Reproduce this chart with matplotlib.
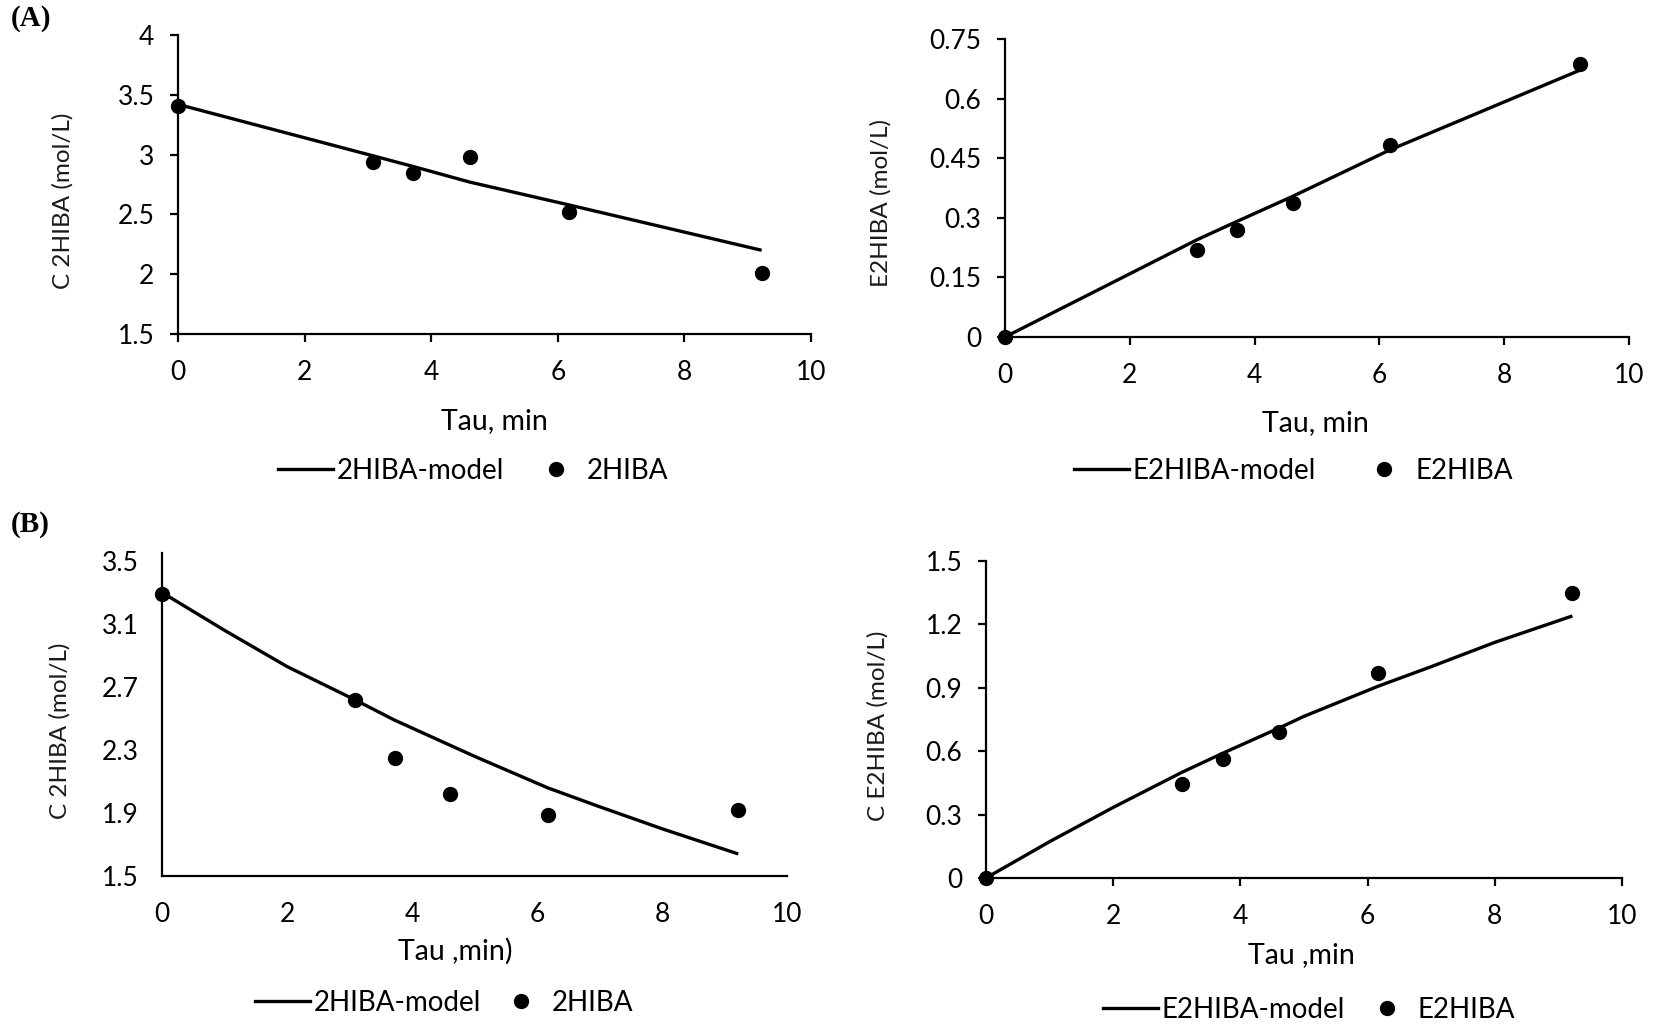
import matplotlib
matplotlib.use("Agg")
import matplotlib.pyplot as plt
from matplotlib.lines import Line2D

# Residence time (min) of the experimental runs
tau = [0, 3.08, 3.72, 4.61, 6.17, 9.22]

# (A) measured and model concentrations
c2hiba_a_exp = [3.41, 2.94, 2.85, 2.98, 2.52, 2.01]
c2hiba_a_model = [3.42, 2.99, 2.90, 2.77, 2.58, 2.20]
e2hiba_a_exp = [0.0, 0.218, 0.270, 0.337, 0.484, 0.687]
e2hiba_a_model = [0.0, 0.245, 0.291, 0.354, 0.471, 0.672]

# (B) measured concentrations and model curves
tau_model_b = [0, 1, 2, 3.08, 3.72, 4.61, 5, 6.17, 7, 8, 9.22]
c2hiba_b_exp = [3.29, 2.62, 2.25, 2.02, 1.89, 1.92]
c2hiba_b_model = [3.30, 3.06, 2.83, 2.62, 2.49, 2.33, 2.26, 2.06, 1.94, 1.80, 1.64]
e2hiba_b_exp = [0.0, 0.444, 0.561, 0.691, 0.97, 1.347]
e2hiba_b_model = [0.0, 0.172, 0.334, 0.50, 0.59, 0.71, 0.765, 0.908, 1.00, 1.115, 1.24]

x_ticks = [0, 2, 4, 6, 8, 10]
y_ticks_a1 = [1.5, 2, 2.5, 3, 3.5, 4]
y_ticks_a2 = [0, 0.15, 0.3, 0.45, 0.6, 0.75]
y_ticks_b1 = [1.5, 1.9, 2.3, 2.7, 3.1, 3.5]
y_ticks_b2 = [0, 0.3, 0.6, 0.9, 1.2, 1.5]

W, H = 1659, 1029
SANS = ["Lato", "DejaVu Sans"]

fig = plt.figure(figsize=(W / 100, H / 100), dpi=100)
fig.patch.set_facecolor("white")


def px_axes(x0, x1, ytop, ybot):
    return fig.add_axes([x0 / W, 1 - ybot / H, (x1 - x0) / W, (ybot - ytop) / H])


def style(ax, ylim, yticks, ylabels, ticks=True, xpad=13, ypad=11):
    ax.set_xlim(0, 10)
    ax.set_ylim(*ylim)
    ax.set_xticks(x_ticks)
    ax.set_yticks(yticks)
    ax.set_yticklabels(ylabels)
    for s in ("top", "right"):
        ax.spines[s].set_visible(False)
    for s in ("left", "bottom"):
        ax.spines[s].set_linewidth(1.6)
        ax.spines[s].set_color("black")
    tl = 6 if ticks else 0
    ax.tick_params(axis="x", direction="out", length=tl, width=1.6, pad=xpad)
    ax.tick_params(axis="y", direction="out", length=tl, width=1.6, pad=ypad)
    for lab in ax.get_xticklabels() + ax.get_yticklabels():
        lab.set_family(SANS)
        lab.set_fontsize(19)
    ax.patch.set_alpha(0)


def legend(name, x, y, colspace):
    handles = [
        Line2D([], [], color="black", lw=2.4),
        Line2D([], [], color="black", lw=0, marker="o", markersize=10),
    ]
    fig.legend(handles, [name + "-model", name], loc="center left",
               bbox_to_anchor=(x / W, 1 - y / H), ncol=2, frameon=False,
               borderpad=0, borderaxespad=0, handlelength=1.98,
               handletextpad=0.12, columnspacing=colspace, numpoints=1,
               prop={"family": SANS, "size": 20})


def plot(ax, tx, ym, ye):
    ax.plot(tx, ym, color="black", lw=2.4, solid_capstyle="butt",
            solid_joinstyle="round", zorder=2)
    ax.plot(tau, ye, "o", color="black", markersize=10, clip_on=False, zorder=3)


# Panel (A), left
ax1 = px_axes(178, 811, 35, 334)
plot(ax1, tau, c2hiba_a_model, c2hiba_a_exp)
style(ax1, (1.5, 4), y_ticks_a1, ["1.5", "2", "2.5", "3", "3.5", "4"])

# Panel (A), right
ax2 = px_axes(1005, 1629, 39, 337)
plot(ax2, tau, e2hiba_a_model, e2hiba_a_exp)
style(ax2, (0, 0.75), y_ticks_a2, ["0", "0.15", "0.3", "0.45", "0.6", "0.75"])

# Panel (B), left
ax3 = px_axes(162, 787, 561, 876)
plot(ax3, tau_model_b, c2hiba_b_model, c2hiba_b_exp)
style(ax3, (1.5, 3.5), y_ticks_b1, ["1.5", "1.9", "2.3", "2.7", "3.1", "3.5"],
      ticks=False, xpad=19, ypad=17)
ax3.spines["left"].set_bounds(1.5, 3.55)

# Panel (B), right
ax4 = px_axes(986, 1622, 561, 878)
plot(ax4, tau_model_b, e2hiba_b_model, e2hiba_b_exp)
style(ax4, (0, 1.5), y_ticks_b2, ["0", "0.3", "0.6", "0.9", "1.2", "1.5"])

# Axis titles
for (x, y, t) in [(494, 421, "Tau, min"), (1315, 423, "Tau, min"),
                  (455, 951, "Tau ,min)"), (1301, 955, "Tau ,min")]:
    fig.text(x / W, 1 - y / H, t, ha="center", va="center",
             family=SANS, fontsize=20.5)
for (x, y, t) in [(63, 201, "C 2HIBA (mol/L)"), (881, 203, "E2HIBA (mol/L)"),
                  (60, 731, "C 2HIBA (mol/L)"), (878, 726, "C E2HIBA (mol/L)")]:
    fig.text(x / W, 1 - y / H, t, ha="center", va="center", rotation=90,
             family=SANS, fontsize=17.5, color="#1a1a1a")

# Legends
legend("2HIBA", 278, 471, 0.9)
legend("E2HIBA", 1074, 471, 1.48)
legend("2HIBA", 255, 1003, 0.46)
legend("E2HIBA", 1103, 1010, 0.53)

# Panel tags
for (y, t) in [(19, "(A)"), (525, "(B)")]:
    fig.text(11 / W, 1 - y / H, t, ha="left", va="center",
             family=["Liberation Serif", "DejaVu Serif"], fontweight="bold",
             fontsize=21)

fig.savefig("out.png", dpi=100, facecolor="white")
